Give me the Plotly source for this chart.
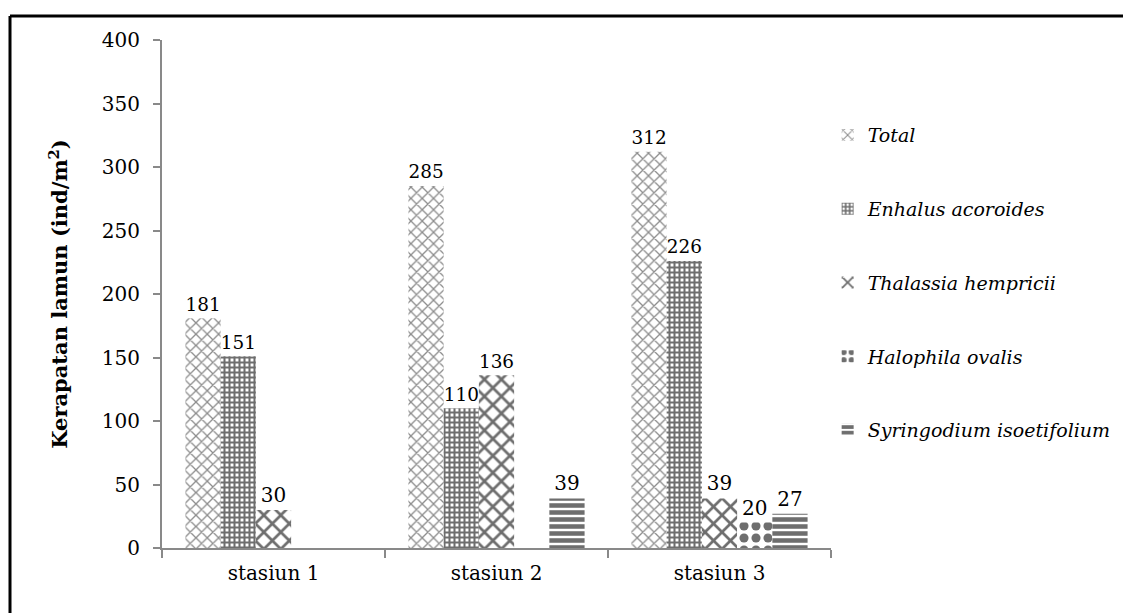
import plotly.graph_objects as go

categories = ["stasiun 1", "stasiun 2", "stasiun 3"]
series_names = ["Total", "Enhalus acoroides", "Thalassia hempricii",
                "Halophila ovalis", "Syringodium isoetifolium"]
total = [181, 285, 312]
enhalus = [151, 110, 226]
thalassia = [30, 136, 39]
halophila = [0, 0, 20]
syringodium = [0, 39, 27]
y_ticks = [0, 50, 100, 150, 200, 250, 300, 350, 400]

values = [total, enhalus, thalassia, halophila, syringodium]
patterns = [
    dict(shape="x", fgcolor="#8c8c8c", bgcolor="white", size=8, solidity=0.3, fgopacity=1),
    dict(shape="+", fgcolor="#6e6e6e", bgcolor="white", size=5, solidity=0.65, fgopacity=1),
    dict(shape="x", fgcolor="#6e6e6e", bgcolor="white", size=12, solidity=0.4, fgopacity=1),
    dict(shape=".", fgcolor="#6e6e6e", bgcolor="white", size=12, solidity=0.45, fgopacity=1),
    dict(shape="-", fgcolor="#6e6e6e", bgcolor="white", size=7, solidity=0.65, fgopacity=1),
]

FONT = "DejaVu Serif"
fig = go.Figure()
for i, (name, vals, pat) in enumerate(zip(series_names, values, patterns)):
    fig.add_trace(go.Bar(
        x=categories, y=vals, name=name,
        marker=dict(color="white", pattern=pat, line=dict(width=0)),
        text=[str(v) if v else "" for v in vals],
        textposition="outside", cliponaxis=False,
        textfont=dict(family=FONT, size=20, color="black"),
        legendgroup=str(i),
    ))

fig.update_layout(
    width=1131, height=613,
    margin=dict(l=154, r=308, t=32, b=73),
    paper_bgcolor="white", plot_bgcolor="white",
    barmode="group", bargap=0.21, bargroupgap=0,
    font=dict(family=FONT, size=20, color="black"),
    showlegend=True,
    legend=dict(x=0.995, y=0.85, xanchor="left", yanchor="top",
                font=dict(family=FONT, size=19, style="italic"),
                tracegroupgap=46, itemwidth=30, bgcolor="rgba(0,0,0,0)"),
    xaxis=dict(showline=True, linecolor="#898989", linewidth=2,
               ticks="outside", tickson="boundaries", ticklen=8,
               tickcolor="#898989", tickwidth=2, ticklabelstandoff=6,
               tickfont=dict(family=FONT, size=20), showgrid=False),
    yaxis=dict(range=[0, 400], tickvals=y_ticks, showline=True,
               linecolor="#898989", linewidth=2, ticks="outside",
               ticklen=7, tickcolor="#898989", tickwidth=2,
               ticklabelstandoff=9,
               showgrid=False, zeroline=False,
               tickfont=dict(family=FONT, size=20),
               title=dict(text="<b>Kerapatan lamun (ind/m<sup>2</sup>)</b>",
                          font=dict(family=FONT, size=21), standoff=28)),
    shapes=[
        dict(type="line", xref="paper", yref="paper", x0=-0.2272, x1=-0.2272,
             y0=-0.3, y1=1.047, line=dict(color="black", width=3)),
        dict(type="line", xref="paper", yref="paper", x0=-0.2272, x1=1.6,
             y0=1.047, y1=1.047, line=dict(color="black", width=3)),
    ],
)

fig.write_html("out.html")
